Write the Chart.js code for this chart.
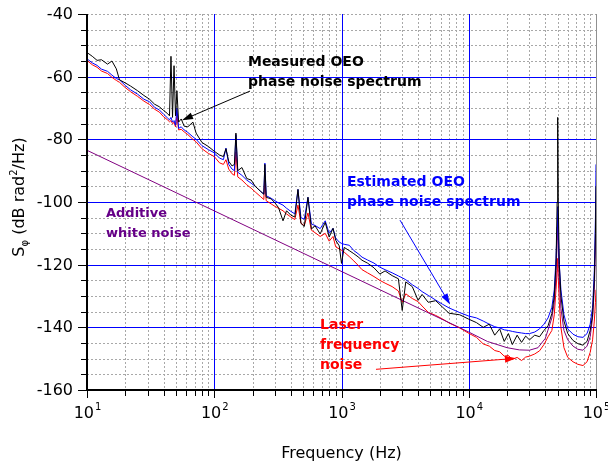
<!DOCTYPE html>
<html>
<head>
<meta charset="utf-8">
<script src="https://cdn.jsdelivr.net/npm/chart.js@4/dist/chart.umd.min.js"></script>
<style>
  html, body { margin: 0; padding: 0; background: #fff; }
  #noiseChart { display: block; }
</style>
</head>
<body>
<canvas id="noiseChart" width="608" height="468"></canvas>
<script>
// offset frequency (Hz), shared by the three measured/estimated curves
const freq = [
  10, 11, 12, 13, 14.5, 15.7, 17, 18, 20, 22,
  25, 28, 31, 34, 37, 40, 43, 44.5, 45.7, 47,
  48.3, 49.6, 50.9, 52.5, 55, 58, 62, 68, 72, 80,
  90, 100, 110, 118, 123.6, 130, 138, 144, 148, 153,
  165, 180, 195, 210, 230, 245, 250, 256, 280, 300,
  320, 347, 370, 400, 430, 455, 480, 510, 545, 580,
  620, 680, 745, 800, 858, 900, 960, 1000, 1050, 1150,
  1250, 1350, 1450, 1600, 1800, 2000, 2200, 2500, 2800, 3000,
  3200, 3600, 4000, 4300, 4800, 5500, 6200, 7000, 8500, 10000,
  11500, 13000, 14500, 16000, 17500, 19000, 20500, 22000, 24000, 26000,
  28000, 30000, 33000, 36000, 39000, 42000, 45000, 47000, 48500, 49500,
  50000, 50500, 51500, 53000, 56000, 60000, 66000, 72000, 79000, 85000,
  90000, 94000, 97000, 99000, 100000
];

// measured OEO phase noise (black), dB rad^2/Hz
const measured = [
  -52.3, -53.5, -54.8, -54.6, -56.0, -55.0, -57.5, -61.0, -62.0, -63.0,
  -64.5, -66.0, -67.2, -68.8, -69.6, -70.8, -71.8, -72.5, -53.5, -73.0,
  -56.5, -72.5, -64.5, -74.5, -73.5, -75.8, -76.0, -74.5, -78.0, -81.0,
  -82.3, -83.8, -85.0, -85.5, -83.0, -87.0, -88.5, -88.0, -78.0, -90.0,
  -89.0, -92.5, -93.0, -95.0, -96.5, -97.5, -88.0, -98.5, -99.0, -100.3,
  -101.8, -106.0, -102.8, -104.2, -104.8, -96.0, -106.8, -107.8, -98.5, -108.6,
  -107.6, -110.2, -106.5, -111.2, -108.4, -112.2, -114.0, -119.6, -114.5, -115.5,
  -116.5, -117.5, -118.6, -119.5, -121.0, -123.0, -122.0, -123.5, -124.5, -134.6,
  -125.5, -127.0, -131.4, -129.5, -132.0, -131.5, -133.5, -135.5, -136.0, -137.4,
  -138.5, -140.0, -139.0, -142.5, -140.5, -144.5, -142.0, -145.5, -142.5, -144.8,
  -142.8, -144.0, -142.5, -143.0, -141.0, -139.5, -135.6, -130.0, -120.0, -100.0,
  -73.0, -100.0, -120.0, -130.0, -138.0, -142.0, -144.2, -145.2, -145.7, -144.5,
  -141.0, -136.0, -125.0, -110.0, -95.0
];

// estimated OEO phase noise (blue)
const estimated = [
  -54.3, -55.6, -56.4, -57.6, -58.3, -59.5, -60.6, -61.0, -62.8, -64.2,
  -65.6, -67.2, -68.0, -69.8, -70.6, -72.0, -73.2, -73.8, -73.0, -74.5,
  -74.0, -75.5, -70.0, -76.5, -76.0, -77.0, -77.8, -79.2, -80.0, -82.0,
  -83.3, -84.3, -86.0, -86.5, -82.8, -88.0, -89.5, -90.0, -78.5, -90.5,
  -91.5, -93.0, -94.0, -95.0, -96.5, -97.5, -87.6, -98.0, -98.8, -99.6,
  -100.3, -101.0, -102.0, -103.0, -103.8, -96.0, -105.0, -105.5, -98.5, -107.0,
  -107.5, -108.5, -106.0, -110.0, -108.4, -111.5, -112.8, -113.2, -113.5, -113.8,
  -115.5, -116.5, -117.6, -118.5, -119.5, -120.8, -121.6, -122.6, -123.6, -124.2,
  -124.8, -126.4, -127.6, -128.6, -129.8, -131.3, -132.6, -133.8, -135.3, -136.4,
  -137.0, -138.0, -139.0, -139.8, -140.2, -140.8, -141.0, -141.3, -141.6, -141.8,
  -142.0, -142.0, -141.5, -140.5, -139.0, -137.0, -133.6, -128.0, -118.0, -108.0,
  -101.5, -110.0, -120.0, -128.0, -136.0, -140.5, -142.2, -143.0, -143.2, -142.0,
  -139.0, -133.6, -122.0, -105.0, -88.0
];

// laser frequency noise contribution (red)
const laser = [
  -54.8, -56.2, -57.0, -58.2, -59.0, -60.2, -61.2, -61.8, -63.5, -64.8,
  -66.3, -67.8, -68.9, -70.4, -71.3, -72.8, -73.8, -74.4, -74.0, -75.0,
  -74.6, -76.0, -72.5, -77.0, -76.8, -77.6, -78.5, -80.0, -80.8, -83.0,
  -84.5, -85.5, -87.5, -88.0, -86.5, -89.5, -91.0, -91.5, -84.0, -92.0,
  -93.0, -94.5, -95.6, -96.8, -98.2, -99.2, -93.0, -99.6, -100.6, -101.4,
  -102.0, -102.8, -103.8, -104.8, -105.6, -101.0, -106.8, -107.5, -103.5, -109.0,
  -109.8, -111.0, -110.0, -112.5, -111.0, -114.3, -115.0, -115.4, -116.0, -117.4,
  -118.8, -120.2, -121.6, -122.6, -123.8, -125.0, -125.9, -127.0, -128.4, -132.0,
  -129.3, -130.8, -131.8, -133.2, -135.2, -136.2, -137.3, -138.6, -140.2, -141.9,
  -143.2, -145.3, -146.0, -147.4, -147.8, -149.2, -149.0, -150.2, -149.6, -150.6,
  -149.5, -149.2, -148.5, -147.5, -145.5, -143.0, -141.0, -136.0, -128.0, -122.0,
  -118.0, -124.0, -132.0, -140.0, -146.5, -149.6, -151.0, -151.8, -152.2, -151.0,
  -148.0, -144.0, -138.0, -132.0, -128.0
];

// additive white noise (purple), its own frequency points
const freqWhite = [10, 10000, 14000, 20000, 25000, 30000, 35000, 40000, 45000, 47000,
  48500, 49500, 50000, 50500, 51500, 53000, 56000, 60000, 66000, 72000,
  79000, 85000, 90000, 94000, 97000, 99000, 100000];
const whiteNoise = [-83.5, -141.5, -144.5, -146.5, -147.2, -147.3, -146.5, -143.5, -137.0, -132.0,
  -124.0, -112.0, -105.0, -114.0, -125.0, -134.0, -141.0, -144.0, -146.0, -147.0,
  -147.3, -146.0, -143.0, -137.0, -128.0, -115.0, -100.0];

// axis ticks
const yTicks = [-160, -140, -120, -100, -80, -60, -40];
const xDecades = [10, 100, 1000, 10000, 100000];
const xExponents = ['1', '2', '3', '4', '5'];

function toPoints(xs, ys) {
  return xs.map((f, i) => ({ x: f, y: ys[i] }));
}

const FONT = '"DejaVu Sans", Verdana, sans-serif';

// annotation texts anchored in data units (freq, dB) for first line
const notes = [
  { lines: ['Measured OEO', 'phase noise spectrum'], f: 184, v: -56.6, color: '#000000', size: 14 },
  { lines: ['Estimated OEO', 'phase noise spectrum'], f: 1104, v: -94.9, color: '#0000ff', size: 14 },
  { lines: ['Additive', 'white noise'], f: 14.1, v: -104.8, color: '#660088', size: 13 },
  { lines: ['Laser', 'frequency', 'noise'], f: 678, v: -140.5, color: '#ff0000', size: 14 }
];
const arrows = [
  { from: [191, -64.6], to: [55.8, -73.9], color: '#000000' },
  { from: [2884, -105.8], to: [7130, -132.7], color: '#0000ff' },
  { from: [1866, -153.4], to: [23500, -149.9], color: '#ff0000' }
];

function drawArrow(ctx, x0, y0, x1, y1, color) {
  const ang = Math.atan2(y1 - y0, x1 - x0);
  const len = 11, half = 3.5;
  ctx.strokeStyle = color;
  ctx.fillStyle = color;
  ctx.lineWidth = 1;
  ctx.setLineDash([]);
  ctx.beginPath();
  ctx.moveTo(x0, y0);
  ctx.lineTo(x1 - Math.cos(ang) * len * 0.8, y1 - Math.sin(ang) * len * 0.8);
  ctx.stroke();
  ctx.beginPath();
  ctx.moveTo(x1, y1);
  ctx.lineTo(x1 - Math.cos(ang) * len - Math.sin(ang) * half, y1 - Math.sin(ang) * len + Math.cos(ang) * half);
  ctx.lineTo(x1 - Math.cos(ang) * len + Math.sin(ang) * half, y1 - Math.sin(ang) * len - Math.cos(ang) * half);
  ctx.closePath();
  ctx.fill();
}

const frame = {
  id: 'frame',
  beforeDatasetsDraw(chart) {
    const { ctx, chartArea: a, scales: { x, y } } = chart;
    ctx.save();
    ctx.lineWidth = 1;
    // dashed minor grid
    ctx.strokeStyle = '#a8a8a8';
    ctx.setLineDash([2, 2]);
    ctx.beginPath();
    for (let v = -155; v <= -40; v += 5) {
      if (v % 20 === 0 && v !== -40) continue;
      const py = Math.round(y.getPixelForValue(v)) + 0.5;
      ctx.moveTo(a.left, py); ctx.lineTo(a.right, py);
    }
    xDecades.slice(0, -1).forEach(d => {
      for (let m = 2; m <= 9; m++) {
        const px = Math.round(x.getPixelForValue(d * m)) + 0.5;
        ctx.moveTo(px, a.top); ctx.lineTo(px, a.bottom);
      }
    });
    ctx.stroke();
    // blue major grid
    ctx.setLineDash([]);
    ctx.strokeStyle = '#0000ff';
    ctx.beginPath();
    yTicks.slice(1, -1).forEach(v => {
      const py = Math.round(y.getPixelForValue(v)) + 0.5;
      ctx.moveTo(a.left, py); ctx.lineTo(a.right, py);
    });
    xDecades.slice(1, -1).forEach(d => {
      const px = Math.round(x.getPixelForValue(d)) + 0.5;
      ctx.moveTo(px, a.top); ctx.lineTo(px, a.bottom);
    });
    ctx.stroke();
    // right border
    ctx.strokeStyle = '#909090';
    ctx.beginPath();
    ctx.moveTo(Math.round(a.right) + 0.5, a.top);
    ctx.lineTo(Math.round(a.right) + 0.5, a.bottom);
    ctx.stroke();
    ctx.restore();
  },
  afterDatasetsDraw(chart) {
    const { ctx, chartArea: a, scales: { x, y } } = chart;
    ctx.save();
    ctx.setLineDash([]);
    // axes
    ctx.strokeStyle = '#000000';
    ctx.lineWidth = 2;
    ctx.beginPath();
    ctx.moveTo(a.left, a.top); ctx.lineTo(a.left, a.bottom);
    ctx.lineTo(a.right + 1, a.bottom);
    ctx.stroke();
    // ticks
    ctx.lineWidth = 1;
    ctx.beginPath();
    for (let v = -160; v <= -40; v += 5) {
      const py = Math.round(y.getPixelForValue(v)) + 0.5;
      const len = v % 20 === 0 ? 9 : 6;
      ctx.moveTo(a.left - len, py); ctx.lineTo(a.left, py);
    }
    xDecades.forEach((d, i) => {
      const px = Math.round(x.getPixelForValue(d)) + 0.5;
      ctx.moveTo(px, a.bottom); ctx.lineTo(px, a.bottom + 8);
      if (i < xDecades.length - 1) {
        for (let m = 2; m <= 9; m++) {
          const pm = Math.round(x.getPixelForValue(d * m)) + 0.5;
          ctx.moveTo(pm, a.bottom); ctx.lineTo(pm, a.bottom + 6);
        }
      }
    });
    ctx.stroke();
    // y tick labels
    ctx.fillStyle = '#000000';
    ctx.font = '16px ' + FONT;
    ctx.textAlign = 'right';
    ctx.textBaseline = 'middle';
    yTicks.forEach(v => ctx.fillText(String(v), a.left - 14, y.getPixelForValue(v) + 1));
    // x tick labels 10^n
    ctx.textAlign = 'left';
    ctx.textBaseline = 'alphabetic';
    xDecades.forEach((d, i) => {
      ctx.font = '16px ' + FONT;
      const wBase = ctx.measureText('10').width;
      ctx.font = '10px ' + FONT;
      const wExp = ctx.measureText(xExponents[i]).width;
      const px = x.getPixelForValue(d);
      const start = px - (wBase + wExp) / 2;
      ctx.font = '16px ' + FONT;
      ctx.fillText('10', start, a.bottom + 28);
      ctx.font = '10px ' + FONT;
      ctx.fillText(xExponents[i], start + wBase + 1, a.bottom + 20);
    });
    // axis titles
    ctx.font = '16px ' + FONT;
    ctx.textAlign = 'center';
    ctx.fillText('Frequency (Hz)', (a.left + a.right) / 2, a.bottom + 68);
    ctx.save();
    ctx.translate(24, (a.top + a.bottom) / 2 - 5);
    ctx.rotate(-Math.PI / 2);
    const parts = [
      { t: 'S', f: '16px', dy: 0 },
      { t: 'φ', f: '10px', dy: 4 },
      { t: ' (dB rad', f: '16px', dy: 0 },
      { t: '2', f: '10px', dy: -7 },
      { t: '/Hz)', f: '16px', dy: 0 }
    ];
    let total = 0;
    parts.forEach(p => { ctx.font = p.f + ' ' + FONT; p.w = ctx.measureText(p.t).width; total += p.w; });
    let cx = -total / 2;
    ctx.textAlign = 'left';
    parts.forEach(p => { ctx.font = p.f + ' ' + FONT; ctx.fillText(p.t, cx, p.dy); cx += p.w; });
    ctx.restore();
    // annotations
    ctx.textAlign = 'left';
    notes.forEach(n => {
      ctx.fillStyle = n.color;
      ctx.font = 'bold ' + n.size + 'px ' + FONT;
      const px = x.getPixelForValue(n.f);
      const py = y.getPixelForValue(n.v);
      n.lines.forEach((line, k) => ctx.fillText(line, px, py + k * 20));
    });
    arrows.forEach(ar => {
      drawArrow(ctx, x.getPixelForValue(ar.from[0]), y.getPixelForValue(ar.from[1]),
        x.getPixelForValue(ar.to[0]), y.getPixelForValue(ar.to[1]), ar.color);
    });
    ctx.restore();
  }
};

const lineStyle = { borderWidth: 1, pointRadius: 0, tension: 0, fill: false };

new Chart(document.getElementById('noiseChart'), {
  type: 'line',
  data: {
    datasets: [
      Object.assign({ label: 'Measured OEO phase noise', data: toPoints(freq, measured), borderColor: '#000000', order: 0 }, lineStyle),
      Object.assign({ label: 'Estimated OEO phase noise', data: toPoints(freq, estimated), borderColor: '#0000ff', order: 1 }, lineStyle),
      Object.assign({ label: 'Additive white noise', data: toPoints(freqWhite, whiteNoise), borderColor: '#800080', order: 2 }, lineStyle),
      Object.assign({ label: 'Laser frequency noise', data: toPoints(freq, laser), borderColor: '#ff0000', order: 3 }, lineStyle)
    ]
  },
  options: {
    responsive: false,
    animation: false,
    devicePixelRatio: 1,
    layout: { padding: { left: 87, right: 12, top: 14, bottom: 78 } },
    plugins: { legend: { display: false }, tooltip: { enabled: false } },
    scales: {
      x: { type: 'logarithmic', min: 10, max: 100000, display: false },
      y: { type: 'linear', min: -160, max: -40, display: false }
    }
  },
  plugins: [frame]
});
</script>
</body>
</html>
